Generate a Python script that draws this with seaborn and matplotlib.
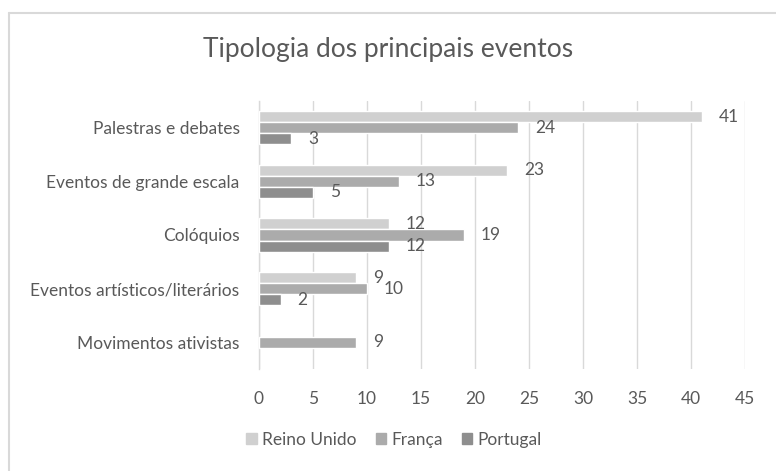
import numpy as np
import pandas as pd
import matplotlib
matplotlib.use("Agg")
import matplotlib.pyplot as plt
from matplotlib.lines import Line2D
import seaborn as sns

categories = [
    "Palestras e debates",
    "Eventos de grande escala",
    "Colóquios",
    "Eventos artísticos/literários",
    "Movimentos ativistas",
]
reino_unido = [41, 23, 12, 9, np.nan]
franca = [24, 13, 19, 10, 9]
portugal = [3, 5, 12, 2, np.nan]
series = ["Reino Unido", "França", "Portugal"]
colors = ["#D0D0D0", "#ABABAB", "#8E8E8E"]
ticks = [0, 5, 10, 15, 20, 25, 30, 35, 40, 45]

df = pd.DataFrame({
    "categoria": categories * 3,
    "pais": [s for s in series for _ in categories],
    "valor": reino_unido + franca + portugal,
})

sns.set_style("white")
plt.rcParams["font.family"] = ["Lato", "DejaVu Sans"]
txt = "#595959"
fs = 12.5

fig = plt.figure(figsize=(7.76, 4.71), dpi=100)
ax = fig.add_axes([259 / 776, 1 - 369 / 471, (745 - 259) / 776, (369 - 101) / 471])

sns.barplot(
    data=df,
    y="categoria",
    x="valor",
    hue="pais",
    order=categories,
    hue_order=series,
    palette=colors,
    orient="h",
    width=0.62,
    errorbar=None,
    saturation=1,
    ax=ax,
    zorder=3,
)

for cont in ax.containers:
    labels = [f"{v:g}" if not np.isnan(v) else "" for v in cont.datavalues]
    ax.bar_label(cont, labels=labels, padding=12, fontsize=fs, color=txt)

ax.set_xlim(0, 45)
ax.set_xticks(ticks)
ax.set_xlabel("")
ax.set_ylabel("")
ax.xaxis.grid(True, color="#D9D9D9", lw=1, zorder=0)
ax.tick_params(axis="both", length=0, labelsize=fs, labelcolor=txt)
ax.tick_params(axis="y", pad=14)
ax.tick_params(axis="x", pad=16)
for s in ["top", "right", "bottom"]:
    ax.spines[s].set_visible(False)
ax.spines["left"].set_color("#D9D9D9")
ax.spines["left"].set_linewidth(1)

ax.get_legend().remove()
handles = [plt.Rectangle((0, 0), 1, 1, color=c) for c in colors]
fig.legend(
    handles, series,
    loc="center", bbox_to_anchor=(394 / 776, 1 - 440 / 471),
    ncol=3, frameon=False, fontsize=fs, labelcolor=txt,
    handlelength=0.6, handleheight=0.6, handletextpad=0.3, columnspacing=1.1,
)

fig.text(0.5, 1 - 50 / 471, "Tipologia dos principais eventos",
         ha="center", va="center", fontsize=19, color=txt)

# chart area border (only top/left visible in the crop)
fig.add_artist(Line2D([8.5 / 776, 1], [1 - 13 / 471] * 2, color="#D9D9D9", lw=1.5,
                      transform=fig.transFigure))
fig.add_artist(Line2D([8.5 / 776] * 2, [0, 1 - 13 / 471], color="#D9D9D9", lw=1.5,
                      transform=fig.transFigure))

fig.savefig("out.png", dpi=100)
